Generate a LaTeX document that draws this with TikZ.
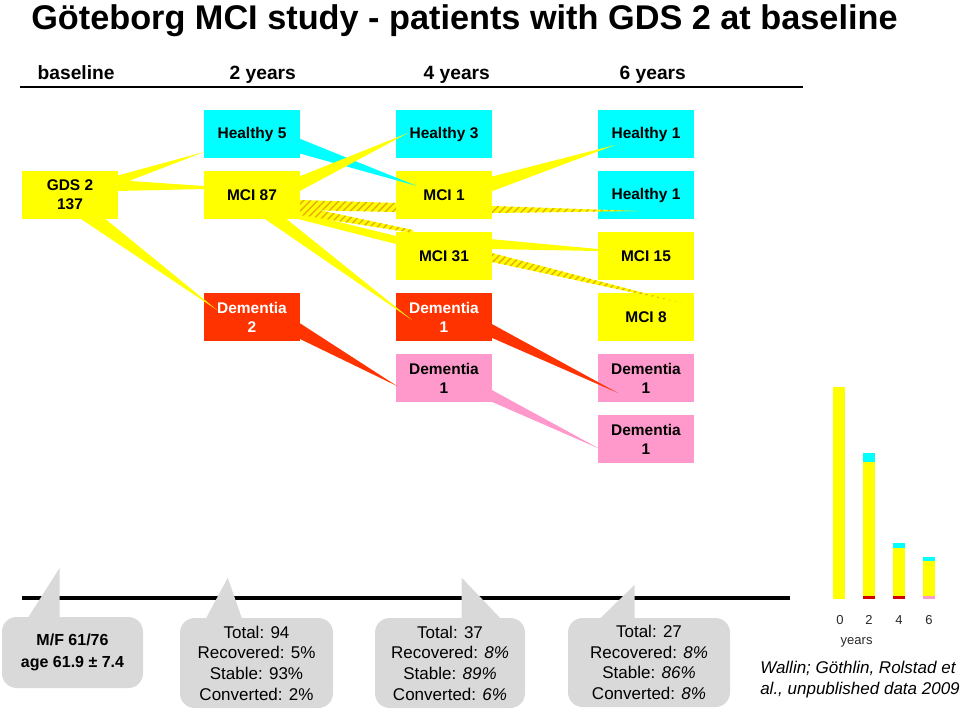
\documentclass[tikz,border=0pt]{standalone}
\usepackage{fontspec}
\setmainfont{Liberation Sans}
\usetikzlibrary{calc,patterns.meta}
\definecolor{cyanc}{RGB}{0,255,255}
\definecolor{yelc}{RGB}{255,255,0}
\definecolor{redc}{RGB}{255,51,0}
\definecolor{pinkc}{RGB}{255,153,204}
\definecolor{hatchc}{RGB}{232,175,0}
\definecolor{callg}{RGB}{217,217,217}
\definecolor{barred}{RGB}{210,0,0}
\definecolor{txtg}{RGB}{40,40,40}
\begin{document}
\begin{tikzpicture}[x=0.75pt,y=-0.75pt,
  box/.style={minimum width=72pt,minimum height=36pt,inner sep=0pt,outer sep=0pt,align=center,font=\fontsize{11.6}{14.25}\selectfont\bfseries},
  ybox/.style={box,fill=yelc},
  cbox/.style={box,fill=cyanc},
  rbox/.style={box,fill=redc,text=white},
  pbox/.style={box,fill=pinkc},
  hatchflow/.style={fill=yelc,postaction={pattern={Lines[angle=45,distance=3.8pt,line width=1.1pt]},pattern color=hatchc}},
  callout/.style={fill=callg,rounded corners=11pt,inner sep=0pt,align=center,font=\fontsize{12.75}{15.5}\selectfont},
  hdr/.style={anchor=base west,font=\fontsize{14.4}{17}\selectfont\bfseries},
  axlab/.style={anchor=base,font=\fontsize{9.75}{11}\selectfont,text=txtg}
]
\useasboundingbox (0,0) rectangle (960,719);

% title and header
\node[anchor=base west,inner sep=0pt,font=\fontsize{25.7}{30}\selectfont\bfseries] (title) at (31,29) {Göteborg MCI study - patients with GDS 2 at baseline};
\node[hdr] (hb) at (33,79) {baseline};
\node[hdr] (h2y) at (225,79) {2 years};
\node[hdr] (h4y) at (419,79) {4 years};
\node[hdr] (h6y) at (615,79) {6 years};
\coordinate (hl0) at (20,87);
\coordinate (hl1) at (803,87);
\draw[line width=1.5pt] (hl0) -- (hl1);

% boxes
\node[ybox] (gds) at (70,195) {GDS 2\\137};
\node[cbox] (h5) at (252,134) {Healthy 5};
\node[ybox] (m87) at (252,195) {MCI 87};
\node[rbox] (d2) at (252,317) {Dementia\\2};
\node[cbox] (h3) at (444,134) {Healthy 3};
\node[ybox] (m1) at (444,195) {MCI 1};
\node[ybox] (m31) at (444,256) {MCI 31};
\node[rbox] (d1r) at (444,317) {Dementia\\1};
\node[pbox] (d1p) at (444,378) {Dementia\\1};
\node[cbox] (h1a) at (646,134) {Healthy 1};
\node[cbox] (h1b) at (646,195) {Healthy 1};
\node[ybox] (m15) at (646,256) {MCI 15};
\node[ybox] (m8) at (646,317) {MCI 8};
\node[pbox] (d6a) at (646,378) {Dementia\\1};
\node[pbox] (d6b) at (646,439) {Dementia\\1};

% flows baseline -> 2 years
\fill[yelc] ($(gds.east)+(-2,-19)$) -- ($(h5.south west)+(0,-6)$) -- ($(gds.east)+(-2,-9)$) -- cycle;
\fill[yelc] ($(gds.east)+(-2,-15)$) -- ($(m87.west)+(0,-9)$) -- ($(m87.west)+(0,-6)$) -- ($(gds.east)+(-2,-4)$) -- cycle;
\fill[yelc] ($(gds.south)+(8,-2)$) -- ($(d2.north west)+(13,17)$) -- ($(gds.south)+(33,-2)$) -- cycle;

% flows 2 years -> 4 years
\fill[cyanc] ($(h5.east)+(-2,4)$) -- ($(m1.west)+(21,-9)$) -- ($(h5.east)+(-2,19)$) -- cycle;
\fill[yelc] ($(m87.east)+(-2,-18)$) -- ($(h3.west)+(12,-1)$) -- ($(m87.east)+(-2,-3)$) -- cycle;
\fill[hatchflow] ($(m87.east)+(0,5)$) -- ($(m1.west)+(0,8)$) -- ($(m1.west)+(0,17)$) -- ($(m87.east)+(0,15)$) -- cycle;
\fill[yelc] ($(m87.east)+(-2,17)$) -- ($(m31.west)+(0,-20)$) -- ($(m31.west)+(0,-12)$) -- ($(m87.east)+(-2,24)$) -- cycle;
\fill[hatchflow] ($(m87.east)+(0,11)$) -- ($(m31.north west)+(17,-2)$) -- ($(m31.north west)+(17,1)$) -- ($(m87.east)+(0,20)$) -- cycle;
\fill[yelc] ($(m87.south)+(10,-2)$) -- ($(d1r.north west)+(16,27)$) -- ($(m87.south)+(32,-2)$) -- cycle;
\fill[redc] ($(d2.east)+(-2,5)$) -- ($(d1p.west)+(1,8)$) -- ($(d2.east)+(-2,21)$) -- cycle;

% flows 4 years -> 6 years
\fill[yelc] ($(m1.east)+(-2,-18)$) -- ($(h1a.west)+(17,11)$) -- ($(m1.east)+(-2,-3)$) -- cycle;
\fill[hatchflow] ($(m1.east)+(0,11)$) -- ($(h1b.west)+(40,16)$) -- ($(m1.east)+(0,18)$) -- cycle;
\fill[yelc] ($(m31.east)+(-2,-17)$) -- ($(m15.west)+(0,-7)$) -- ($(m15.west)+(0,-5)$) -- ($(m31.east)+(-2,-7)$) -- cycle;
\fill[hatchflow] ($(m31.east)+(0,-3)$) -- ($(m8.north west)+(84,10)$) -- ($(m31.east)+(0,6)$) -- cycle;
\fill[redc] ($(d1r.east)+(-2,6)$) -- ($(d6a.west)+(20,15)$) -- ($(d1r.east)+(-2,20)$) -- cycle;
\fill[pinkc] ($(d1p.east)+(-2,11)$) -- ($(d6b.west)+(2,10)$) -- ($(d1p.east)+(-2,23)$) -- cycle;

% bottom timeline
\coordinate (tl0) at (22,598);
\coordinate (tl1) at (790,598);
\draw[line width=2.3pt] (tl0) -- (tl1);

% callouts
\node[callout,minimum width=105.75pt,minimum height=53.25pt,font=\fontsize{12}{16.5}\selectfont\bfseries] (c1) at (72.5,652.5) {M/F 61/76\\age 61.9 ± 7.4};
\fill[callg] ($(c1.north west)+(25,3)$) -- ($(c1.north west)+(58,-49)$) -- ($(c1.north west)+(58,3)$) -- cycle;
\node[callout,minimum width=114.75pt,minimum height=67.5pt] (c2) at (256.5,663) {Total: 94\\Recovered: 5\%\\Stable: 93\%\\Converted: 2\%};
\fill[callg] ($(c2.north west)+(25,3)$) -- ($(c2.north west)+(48,-40)$) -- ($(c2.north west)+(63,3)$) -- cycle;
\node[callout,minimum width=112.5pt,minimum height=67.5pt] (c3) at (450,663) {Total: 37\\Recovered: \textit{8\%}\\Stable: \textit{89\%}\\Converted: \textit{6\%}};
\fill[callg] ($(c3.north west)+(87,3)$) -- ($(c3.north west)+(87,-40)$) -- ($(c3.north west)+(128,3)$) -- cycle;
\node[callout,minimum width=121.5pt,minimum height=66.75pt] (c4) at (649,662.5) {Total: 27\\Recovered: \textit{8\%}\\Stable: \textit{86\%}\\Converted: \textit{8\%}};
\fill[callg] ($(c4.north west)+(30,3)$) -- ($(c4.north west)+(67,-33)$) -- ($(c4.north west)+(67,3)$) -- cycle;

% bar chart
\fill[yelc] (833,387) rectangle (845,599);
\fill[cyanc] (863,453) rectangle (875,462);
\fill[yelc] (863,462) rectangle (875,596);
\fill[barred] (863,596) rectangle (875,599);
\fill[cyanc] (893,543) rectangle (905,548);
\fill[yelc] (893,548) rectangle (905,596);
\fill[barred] (893,596) rectangle (905,599);
\fill[cyanc] (923,557) rectangle (935,561);
\fill[yelc] (923,561) rectangle (935,596);
\fill[pinkc] (923,596) rectangle (935,599);
\node[axlab] (l0) at (840,624) {0};
\node[axlab] (l2) at (869,624) {2};
\node[axlab] (l4) at (899,624) {4};
\node[axlab] (l6) at (929,624) {6};
\node[axlab,anchor=base west] (ly) at (836,644) {years};

% citation
\node[anchor=base west,align=left,inner sep=0pt,font=\fontsize{12.75}{15.75}\selectfont\itshape] (cite) at (760,694) {Wallin; Göthlin, Rolstad et\\al., unpublished data 2009};
\end{tikzpicture}
\end{document}
